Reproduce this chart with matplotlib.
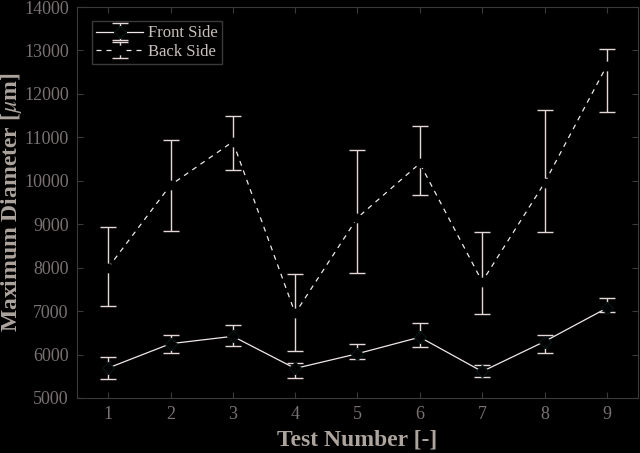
import numpy as np
import matplotlib
matplotlib.use("Agg")
import matplotlib.pyplot as plt

# data
tests = [1, 2, 3, 4, 5, 6, 7, 8, 9]
front = [5690, 6250, 6420, 5680, 6020, 6400, 5610, 6300, 7070]
front_low = [5437, 6030, 6190, 5468, 5899, 6182, 5491, 6030, 6988]
front_high = [5937, 6445, 6690, 5813, 6237, 6721, 5760, 6459, 7311]
back = [8000, 9900, 10900, 6950, 9150, 10400, 7680, 9950, 12650]
back_low = [7120, 8848, 10238, 6090, 7873, 9677, 6935, 8832, 11583]
back_high = [8947, 10929, 11482, 7850, 10714, 11253, 8832, 11636, 13034]

plt.rcParams['font.family'] = ['Liberation Serif', 'DejaVu Serif']
plt.rcParams['mathtext.fontset'] = 'stix'

fig = plt.figure(figsize=(6.4, 4.53), dpi=100, facecolor='black')
ax = fig.add_axes([77 / 640, 1 - 398 / 453, (638 - 77) / 640, (398 - 7) / 453])
ax.set_facecolor('black')

front = np.array(front)
back = np.array(back)
f_err = [front - np.array(front_low), np.array(front_high) - front]
b_err = [back - np.array(back_low), np.array(back_high) - back]

err_col = '#e6d8d8'
ax.errorbar(tests, front, yerr=f_err, color='#f0e8e8', lw=0.9, ls='-',
            marker='D', ms=6, mfc='black', mec='#061414', ecolor=err_col,
            elinewidth=1.0, capsize=6, capthick=1.0, label='Front Side')
ax.errorbar(tests, back, yerr=b_err, color='#f0e8e8', lw=0.9, ls='--',
            dashes=(4, 4), marker='o', ms=6, mfc='black', mec='black',
            ecolor=err_col, elinewidth=1.0, capsize=6, capthick=1.0,
            label='Back Side')

ax.set_xlim(0.5, 9.5)
ax.set_ylim(5000, 14000)
ax.set_xticks(tests)
ax.set_yticks(np.arange(5000, 14001, 1000))

for s in ax.spines.values():
    s.set_color('#3a3a3a')
ax.tick_params(direction='in', colors='#3a3a3a', labelcolor='#7a7272',
               labelsize=13, top=True, right=True, length=4, pad=6)

ax.set_xlabel('Test Number [-]', fontsize=17, fontweight='bold',
              color='#ada49e')
ax.set_ylabel(r'Maximum Diameter [$\mu$m]', fontsize=17, fontweight='bold',
              color='#ada49e')
ax.xaxis.set_label_coords(0.5, -0.08)
ax.yaxis.set_label_coords(-0.094, 0.5)

leg = ax.legend(loc='upper left', fontsize=12, facecolor='black',
                edgecolor='#3a3a3a', framealpha=1, fancybox=False,
                borderpad=0.25, handlelength=2.8, handletextpad=0.3,
                labelspacing=0.15, bbox_to_anchor=(0.012, 0.985))
for t in leg.get_texts():
    t.set_color('#c8c0bc')

fig.savefig('out.png', dpi=100, facecolor='black')
